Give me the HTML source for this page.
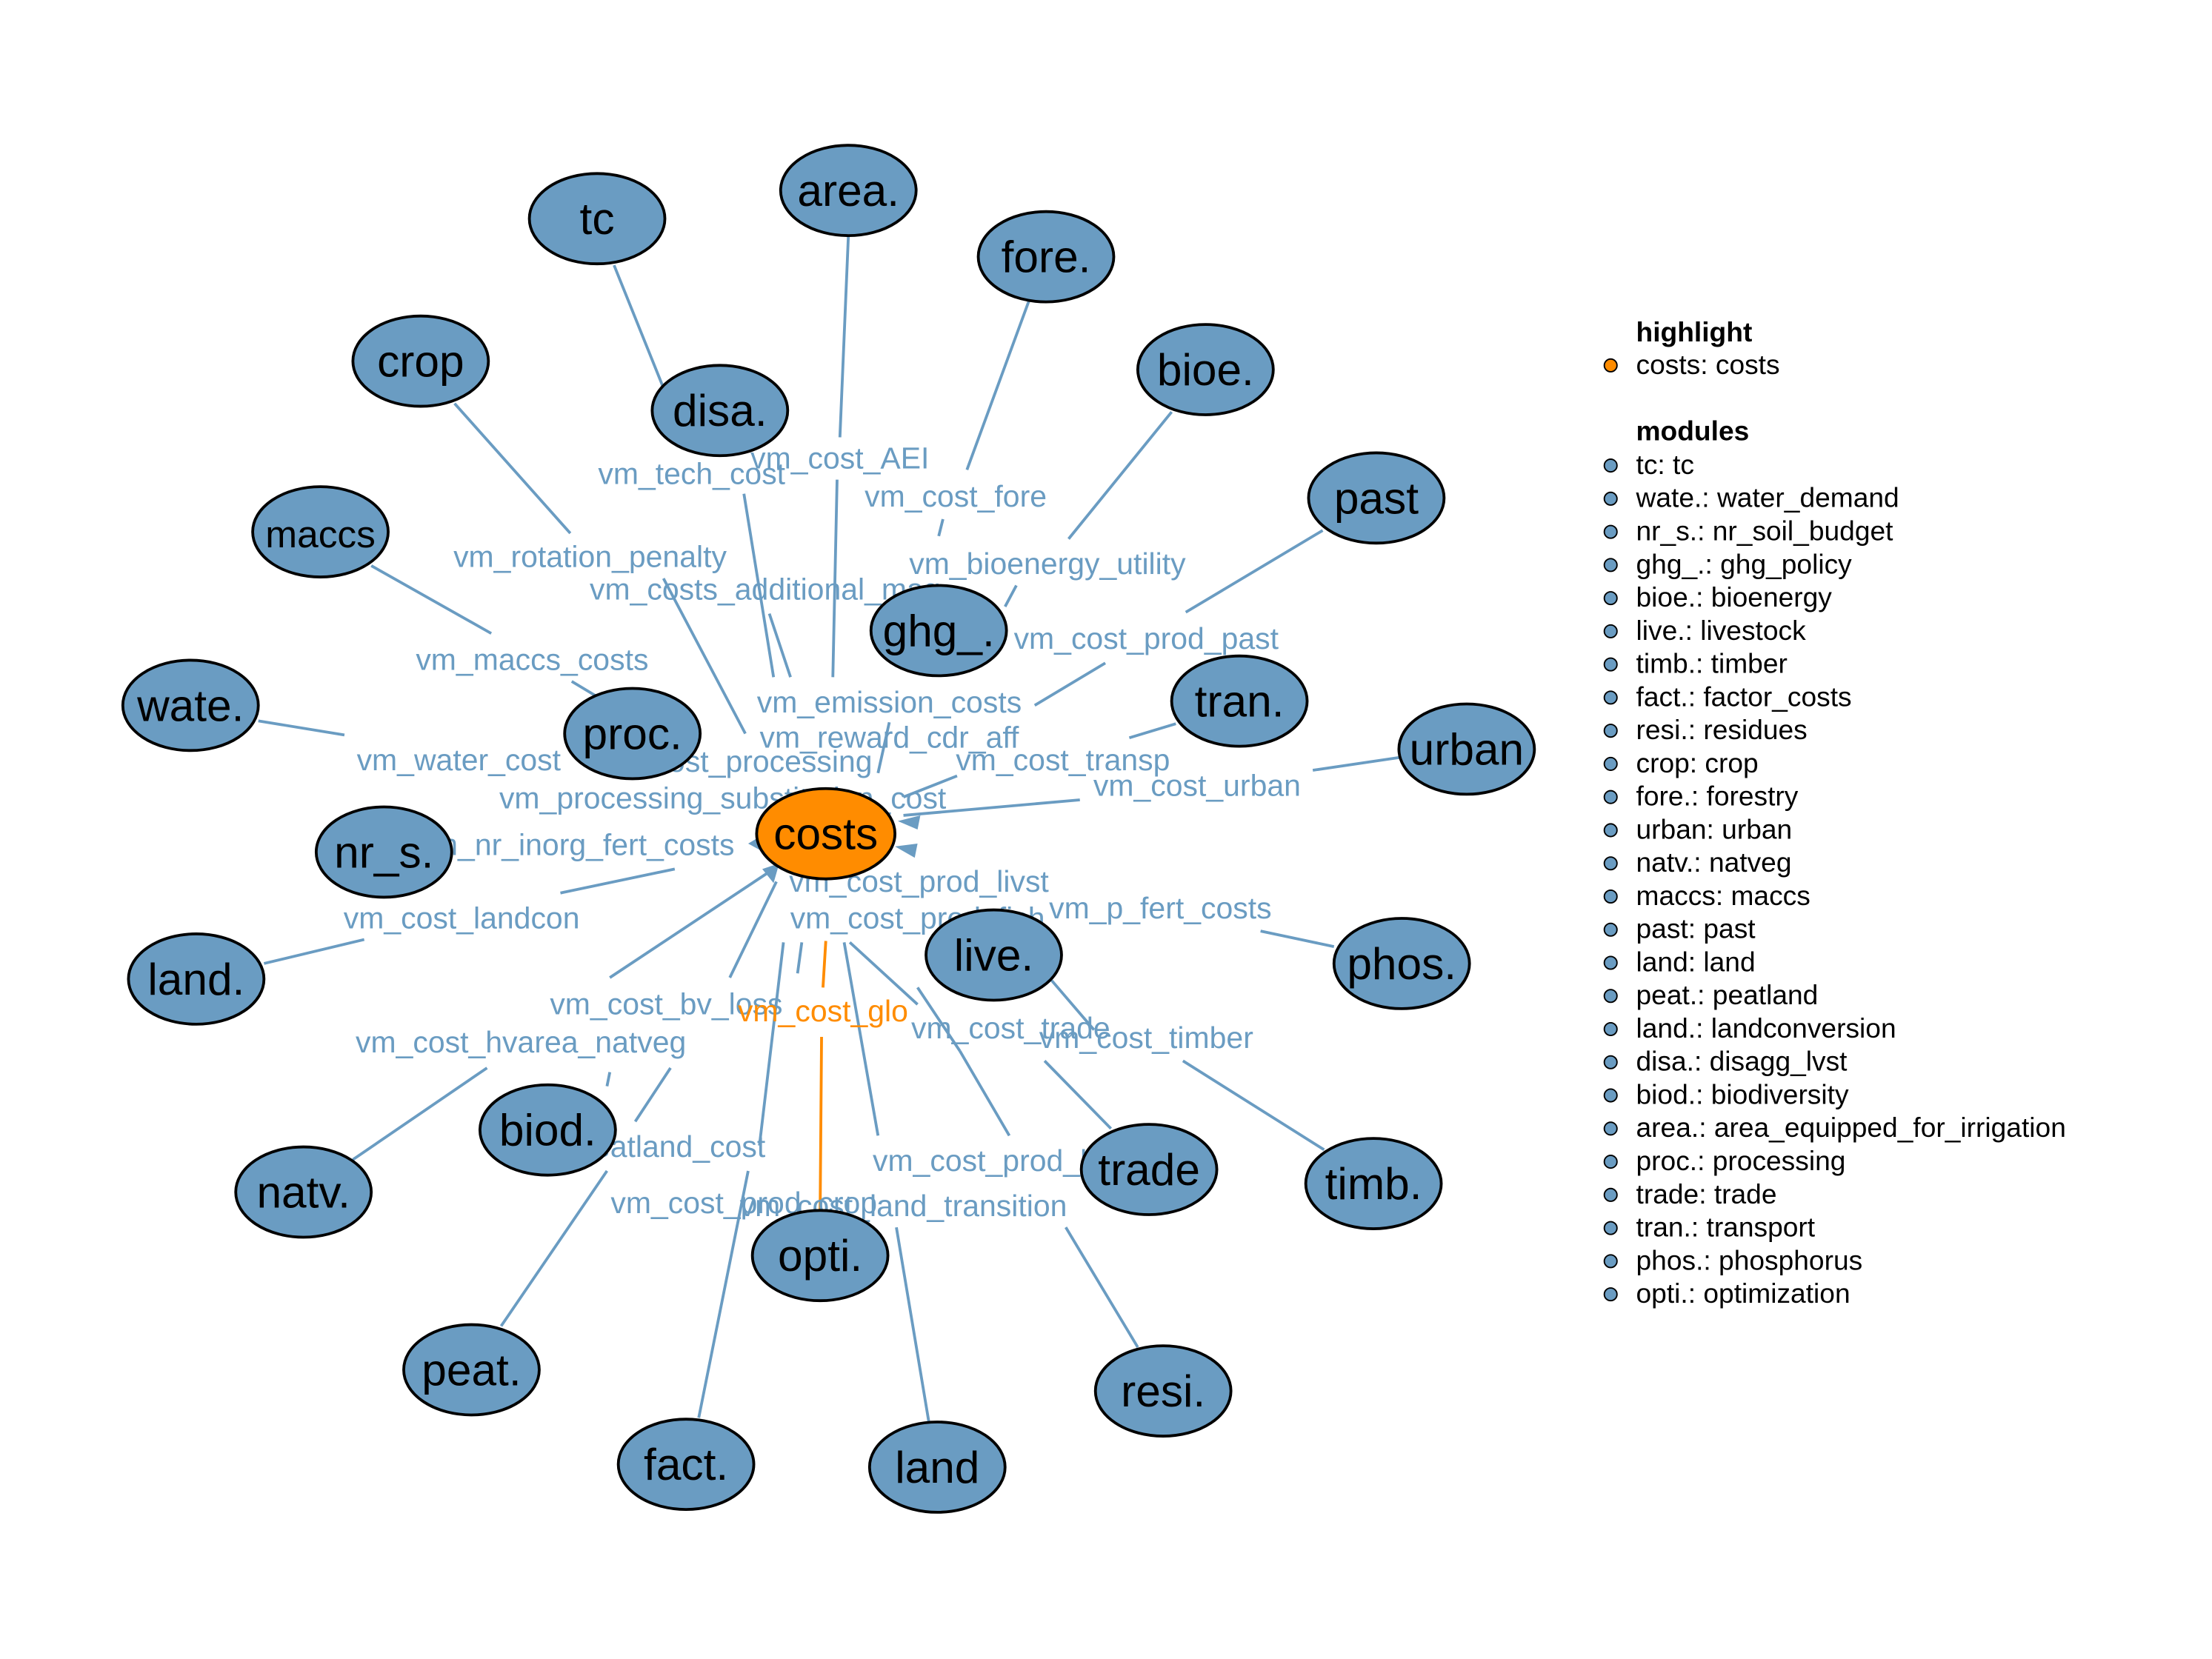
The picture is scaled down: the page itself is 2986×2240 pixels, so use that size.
<!DOCTYPE html>
<html><head><meta charset="utf-8"><style>
html,body{margin:0;padding:0;background:#fff;}
svg{display:block;}
.e{fill:#6a9cc2;font-family:"Liberation Sans",sans-serif;font-size:21.5px;text-anchor:middle;}
.n{font-family:"Liberation Sans",sans-serif;font-size:31.7px;text-anchor:middle;fill:#000;}
.lg{font-family:"Liberation Sans",sans-serif;font-size:19.5px;fill:#000;}
</style></head><body>
<svg width="2986" height="2240" viewBox="0 0 1567 1176" preserveAspectRatio="none" xmlns="http://www.w3.org/2000/svg">
<rect width="1600" height="1200" fill="#fff"/>
<g stroke="#6a9cc2" stroke-width="2" fill="none">
<path d="M435 188 L470 275 M527 350 L548 480"/>
<path d="M601 167 L595 310 M593 340 L590 480"/>
<path d="M729 213 L685 333 M668 368 L665 380"/>
<path d="M830 292 L757 382 M720 415 L712 430"/>
<path d="M322 286 L404 378 M470 410 L528 520"/>
<path d="M545 435 L560 480"/>
<path d="M937 376 L840 434 M783 470 L733 500"/>
<path d="M263 401 L348 449 M405 483 L425 495"/>
<path d="M630 512 L622 548"/>
<path d="M183 511 L244 521"/>
<path d="M833 513 L800 523 M678 550 L640 565"/>
<path d="M991 537 L930 546 M765 567 L640 578"/>
<path d="M187 683 L258 666 M397 633 L478 616"/>
<path d="M945 671 L893 660"/>
<path d="M432 693 L545 618"/>
<path d="M250 822 L345 757 M517 693 L550 625"/>
<path d="M355 940 L430 830 M450 795 L475 757"/>
<path d="M787 800 L740 752 M680 745 L650 700 M650 712 L602 668"/>
<path d="M938 815 L838 752 M775 730 L745 695"/>
<path d="M806 955 L755 870 M715 805 L680 745"/>
<path d="M495 1005 L530 830 M538 812 L555 668"/>
<path d="M658 1008 L635 870 M622 805 L598 668"/>
<path d="M430 770 L432 760 M568 668 L565 690"/>
</g>
<path d="M585 667 L583 700 M582 735 L581 858" stroke="#ff8c00" stroke-width="2" fill="none"/>
<g fill="#6a9cc2">
<path d="M636 582 L652 578 L650 588 Z"/>
<path d="M634 600 L650 598 L648 608 Z"/>
<path d="M540 616 L552 612 L548 626 Z"/>
<path d="M530 598 L540 592 L541 604 Z"/>
</g>
<g class="e">
<text x="490" y="343">vm_tech_cost</text>
<text x="595" y="332">vm_cost_AEI</text>
<text x="677" y="359">vm_cost_fore</text>
<text x="742" y="407">vm_bioenergy_utility</text>
<text x="418" y="402">vm_rotation_penalty</text>
<text x="542" y="425">vm_costs_additional_mag</text>
<text x="812" y="460">vm_cost_prod_past</text>
<text x="377" y="475">vm_maccs_costs</text>
<text x="630" y="505">vm_emission_costs</text>
<text x="630" y="530">vm_reward_cdr_aff</text>
<text x="325" y="546">vm_water_cost</text>
<text x="520" y="547">vm_cost_processing</text>
<text x="753" y="546">vm_cost_transp</text>
<text x="848" y="564">vm_cost_urban</text>
<text x="512" y="573">vm_processing_substitution_cost</text>
<text x="408" y="606">vm_nr_inorg_fert_costs</text>
<text x="651" y="632">vm_cost_prod_livst</text>
<text x="327" y="658">vm_cost_landcon</text>
<text x="650" y="658">vm_cost_prod_fish</text>
<text x="822" y="651">vm_p_fert_costs</text>
<text x="472" y="719">vm_cost_bv_loss</text>
<text x="716" y="736">vm_cost_trade</text>
<text x="812" y="743">vm_cost_timber</text>
<text x="369" y="746">vm_cost_hvarea_natveg</text>
<text x="455" y="820">vm_peatland_cost</text>
<text x="712" y="830">vm_cost_prod_kres</text>
<text x="527" y="860">vm_cost_prod_crop</text>
<text x="640" y="862">vm_cost_land_transition</text>
<text x="583" y="724" fill="#ff8c00">vm_cost_glo</text>
</g>
<g stroke="#000" stroke-width="2" fill="#6a9cc2">
<ellipse cx="423" cy="155" rx="48" ry="32"/>
<ellipse cx="601" cy="135" rx="48" ry="32"/>
<ellipse cx="741" cy="182" rx="48" ry="32"/>
<ellipse cx="854" cy="262" rx="48" ry="32"/>
<ellipse cx="975" cy="353" rx="48" ry="32"/>
<ellipse cx="298" cy="256" rx="48" ry="32"/>
<ellipse cx="510" cy="291" rx="48" ry="32"/>
<ellipse cx="227" cy="377" rx="48" ry="32"/>
<ellipse cx="665" cy="447" rx="48" ry="32"/>
<ellipse cx="878" cy="497" rx="48" ry="32"/>
<ellipse cx="1039" cy="531" rx="48" ry="32"/>
<ellipse cx="135" cy="500" rx="48" ry="32"/>
<ellipse cx="448" cy="520" rx="48" ry="32"/>
<ellipse cx="272" cy="604" rx="48" ry="32"/>
<ellipse cx="139" cy="694" rx="48" ry="32"/>
<ellipse cx="993" cy="683" rx="48" ry="32"/>
<ellipse cx="704" cy="677" rx="48" ry="32"/>
<ellipse cx="388" cy="801" rx="48" ry="32"/>
<ellipse cx="814" cy="829" rx="48" ry="32"/>
<ellipse cx="973" cy="839" rx="48" ry="32"/>
<ellipse cx="215" cy="845" rx="48" ry="32"/>
<ellipse cx="581" cy="890" rx="48" ry="32"/>
<ellipse cx="334" cy="971" rx="48" ry="32"/>
<ellipse cx="824" cy="986" rx="48" ry="32"/>
<ellipse cx="486" cy="1038" rx="48" ry="32"/>
<ellipse cx="664" cy="1040" rx="48" ry="32"/>
<ellipse cx="585" cy="591" rx="49" ry="32" fill="#ff8c00"/>
</g>
<g class="n">
<text x="423" y="166">tc</text>
<text x="601" y="146">area.</text>
<text x="741" y="193">fore.</text>
<text x="854" y="273">bioe.</text>
<text x="975" y="364">past</text>
<text x="298" y="267">crop</text>
<text x="510" y="302">disa.</text>
<text x="227" y="388" style="font-size:27px">maccs</text>
<text x="665" y="458">ghg_.</text>
<text x="878" y="508">tran.</text>
<text x="1039" y="542">urban</text>
<text x="135" y="511">wate.</text>
<text x="448" y="531">proc.</text>
<text x="585" y="602">costs</text>
<text x="272" y="615">nr_s.</text>
<text x="139" y="705">land.</text>
<text x="993" y="694">phos.</text>
<text x="704" y="688">live.</text>
<text x="388" y="812">biod.</text>
<text x="814" y="840">trade</text>
<text x="973" y="850">timb.</text>
<text x="215" y="856">natv.</text>
<text x="581" y="901">opti.</text>
<text x="334" y="982">peat.</text>
<text x="824" y="997">resi.</text>
<text x="486" y="1049">fact.</text>
<text x="664" y="1051">land</text>
</g>
<g class="lg">
<text x="1159" y="242" font-weight="bold">highlight</text>
<circle cx="1141" cy="259" r="4.5" fill="#ff8c00" stroke="#000" stroke-width="1"/>
<text x="1159" y="265">costs: costs</text>
<text x="1159" y="312" font-weight="bold">modules</text>
</g>
<g class="lg">
<g fill="#6a9cc2" stroke="#000" stroke-width="1">
<circle cx="1141" cy="330" r="4.5"/><circle cx="1141" cy="353.5" r="4.5"/><circle cx="1141" cy="377" r="4.5"/><circle cx="1141" cy="400.5" r="4.5"/><circle cx="1141" cy="424" r="4.5"/><circle cx="1141" cy="447.5" r="4.5"/><circle cx="1141" cy="471" r="4.5"/><circle cx="1141" cy="494.5" r="4.5"/><circle cx="1141" cy="518" r="4.5"/><circle cx="1141" cy="541.5" r="4.5"/><circle cx="1141" cy="565" r="4.5"/><circle cx="1141" cy="588.5" r="4.5"/><circle cx="1141" cy="612" r="4.5"/><circle cx="1141" cy="635.5" r="4.5"/><circle cx="1141" cy="659" r="4.5"/><circle cx="1141" cy="682.5" r="4.5"/><circle cx="1141" cy="706" r="4.5"/><circle cx="1141" cy="729.5" r="4.5"/><circle cx="1141" cy="753" r="4.5"/><circle cx="1141" cy="776.5" r="4.5"/><circle cx="1141" cy="800" r="4.5"/><circle cx="1141" cy="823.5" r="4.5"/><circle cx="1141" cy="847" r="4.5"/><circle cx="1141" cy="870.5" r="4.5"/><circle cx="1141" cy="894" r="4.5"/><circle cx="1141" cy="917.5" r="4.5"/>
</g>
<text x="1159" y="336">tc: tc</text>
<text x="1159" y="359.5">wate.: water_demand</text>
<text x="1159" y="383">nr_s.: nr_soil_budget</text>
<text x="1159" y="406.5">ghg_.: ghg_policy</text>
<text x="1159" y="430">bioe.: bioenergy</text>
<text x="1159" y="453.5">live.: livestock</text>
<text x="1159" y="477">timb.: timber</text>
<text x="1159" y="500.5">fact.: factor_costs</text>
<text x="1159" y="524">resi.: residues</text>
<text x="1159" y="547.5">crop: crop</text>
<text x="1159" y="571">fore.: forestry</text>
<text x="1159" y="594.5">urban: urban</text>
<text x="1159" y="618">natv.: natveg</text>
<text x="1159" y="641.5">maccs: maccs</text>
<text x="1159" y="665">past: past</text>
<text x="1159" y="688.5">land: land</text>
<text x="1159" y="712">peat.: peatland</text>
<text x="1159" y="735.5">land.: landconversion</text>
<text x="1159" y="759">disa.: disagg_lvst</text>
<text x="1159" y="782.5">biod.: biodiversity</text>
<text x="1159" y="806">area.: area_equipped_for_irrigation</text>
<text x="1159" y="829.5">proc.: processing</text>
<text x="1159" y="853">trade: trade</text>
<text x="1159" y="876.5">tran.: transport</text>
<text x="1159" y="900">phos.: phosphorus</text>
<text x="1159" y="923.5">opti.: optimization</text>
</g>
</svg>
</body></html>
